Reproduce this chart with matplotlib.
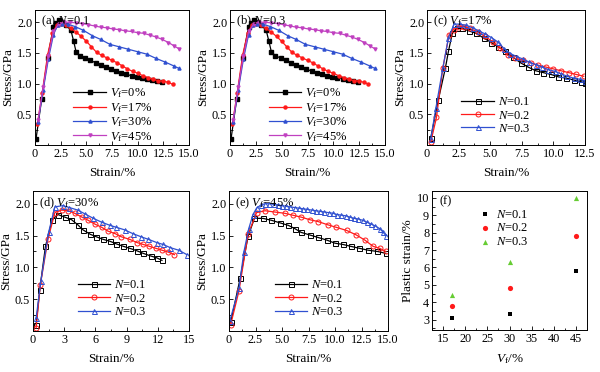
import matplotlib
matplotlib.use("Agg")
import matplotlib.pyplot as plt
from matplotlib.ticker import AutoMinorLocator

plt.rcParams['font.family'] = ['Liberation Serif', 'DejaVu Serif']
plt.rcParams['mathtext.fontset'] = 'custom'
plt.rcParams['mathtext.rm'] = 'Liberation Serif'
plt.rcParams['mathtext.it'] = 'Liberation Serif:italic'
plt.rcParams['font.size'] = 8

# ---------------- data ----------------
# (a) N=0.1 and (b) N=0.3 : Vf = 0, 17, 30, 45 %
a_s0 = [0.1, 0.65, 1.23, 1.8, 2.05, 2.3, 2.6, 3.0, 3.5, 3.75, 4.0, 4.4, 4.9, 5.4, 5.9, 6.4, 6.9, 7.4, 7.9, 8.4, 8.9, 9.4, 9.9, 10.4, 10.9, 11.4, 11.9, 12.4]
a_y0 = [0.1, 0.75, 1.42, 1.93, 1.99, 2.03, 2.0, 1.96, 1.87, 1.7, 1.52, 1.45, 1.42, 1.38, 1.34, 1.3, 1.27, 1.24, 1.2, 1.17, 1.15, 1.13, 1.11, 1.1, 1.08, 1.06, 1.05, 1.03]
a_s17 = [0.23, 0.7, 1.23, 1.7, 2.1, 2.5, 3.0, 3.5, 4.0, 4.5, 5.0, 5.5, 6.0, 6.5, 7.0, 7.5, 8.0, 8.5, 9.0, 9.5, 10.0, 10.5, 11.0, 11.5, 12.0, 12.5, 13.0, 13.4]
a_y17 = [0.34, 0.85, 1.47, 1.82, 1.95, 1.98, 1.95, 1.9, 1.84, 1.77, 1.69, 1.6, 1.51, 1.46, 1.42, 1.38, 1.34, 1.29, 1.24, 1.2, 1.17, 1.13, 1.1, 1.07, 1.05, 1.04, 1.02, 0.99]
a_s30 = [0.3, 0.8, 1.3, 1.8, 2.2, 2.6, 3.2, 3.9, 4.7, 5.6, 6.4, 7.3, 8.2, 9.1, 10.0, 10.9, 11.8, 12.7, 13.5, 14.0]
a_y30 = [0.38, 0.9, 1.4, 1.8, 1.95, 1.98, 1.97, 1.93, 1.87, 1.78, 1.72, 1.64, 1.6, 1.56, 1.52, 1.48, 1.41, 1.35, 1.29, 1.25]
a_s45 = [0.3, 0.8, 1.3, 1.8, 2.3, 2.8, 3.4, 4.0, 4.6, 5.2, 5.8, 6.4, 7.0, 7.6, 8.2, 8.8, 9.4, 10.0, 10.6, 11.2, 11.8, 12.4, 13.0, 13.5, 14.0]
a_y45 = [0.4, 0.95, 1.45, 1.85, 1.97, 2.0, 2.0, 1.99, 1.98, 1.96, 1.94, 1.92, 1.91, 1.89, 1.88, 1.86, 1.85, 1.83, 1.82, 1.79, 1.76, 1.72, 1.67, 1.62, 1.57]

vf_labels = ['$V_\\mathrm{f}$=0%', '$V_\\mathrm{f}$=17%', '$V_\\mathrm{f}$=30%', '$V_\\mathrm{f}$=45%']
n_labels = ['$N$=0.1', '$N$=0.2', '$N$=0.3']

# (c) Vf=17%
c_s1 = [0.3, 0.9, 1.45, 1.7, 2.0, 2.35, 2.8, 3.3, 3.9, 4.5, 5.1, 5.6, 6.2, 6.8, 7.4, 8.0, 8.6, 9.2, 9.8, 10.4, 11.0, 11.6, 12.2, 12.5]
c_y1 = [0.12, 0.74, 1.25, 1.53, 1.82, 1.9, 1.9, 1.86, 1.82, 1.74, 1.67, 1.6, 1.53, 1.43, 1.34, 1.27, 1.21, 1.18, 1.15, 1.11, 1.09, 1.06, 1.03, 1.01]
c_s2 = [0.3, 0.75, 1.25, 1.75, 2.1, 2.5, 2.9, 3.4, 4.0, 4.6, 5.2, 5.8, 6.4, 7.0, 7.6, 8.2, 8.8, 9.4, 10.0, 10.6, 11.2, 11.8, 12.4]
c_y2 = [0.05, 0.45, 1.25, 1.8, 1.88, 1.93, 1.93, 1.9, 1.84, 1.77, 1.68, 1.58, 1.46, 1.41, 1.38, 1.34, 1.3, 1.27, 1.24, 1.21, 1.18, 1.15, 1.12]
c_s3 = [0.3, 0.7, 1.25, 1.7, 2.15, 2.6, 3.1, 3.6, 4.1, 4.6, 5.1, 5.6, 6.1, 6.6, 7.1, 7.6, 8.1, 8.6, 9.1, 9.6, 10.1, 10.6, 11.1, 11.6, 12.1, 12.5]
c_y3 = [0.1, 0.6, 1.25, 1.75, 1.97, 1.97, 1.95, 1.91, 1.86, 1.81, 1.75, 1.68, 1.57, 1.49, 1.44, 1.4, 1.35, 1.31, 1.27, 1.23, 1.2, 1.16, 1.12, 1.09, 1.07, 1.05]

# (d) Vf=30%
d_s1 = [0.3, 0.65, 1.2, 1.85, 2.4, 3.05, 3.7, 4.3, 4.8, 5.5, 6.1, 6.75, 7.4, 8.0, 8.7, 9.3, 10.0, 10.6, 11.3, 11.9, 12.4]
d_y1 = [0.1, 0.65, 1.33, 1.75, 1.83, 1.79, 1.75, 1.67, 1.59, 1.52, 1.48, 1.44, 1.41, 1.37, 1.33, 1.3, 1.26, 1.22, 1.18, 1.15, 1.11]
d_s2 = [0.3, 0.7, 1.45, 2.1, 2.75, 3.4, 4.0, 4.7, 5.3, 5.95, 6.6, 7.2, 7.9, 8.5, 9.3, 10.0, 10.6, 11.2, 11.8, 12.4, 13.0, 13.6]
d_y2 = [0.05, 0.72, 1.45, 1.86, 1.9, 1.89, 1.85, 1.79, 1.74, 1.68, 1.63, 1.57, 1.53, 1.48, 1.44, 1.39, 1.36, 1.33, 1.3, 1.27, 1.24, 1.2]
d_s3 = [0.3, 0.75, 1.5, 2.1, 2.85, 3.5, 4.3, 5.0, 5.8, 6.6, 7.4, 8.0, 8.8, 9.6, 10.4, 11.1, 11.9, 12.5, 13.2, 14.0, 14.8]
d_y3 = [0.2, 0.78, 1.55, 1.95, 1.97, 1.94, 1.9, 1.84, 1.77, 1.71, 1.66, 1.63, 1.59, 1.53, 1.48, 1.44, 1.39, 1.36, 1.31, 1.27, 1.2]

# (e) Vf=45%
e_s1 = [0.16, 1.07, 1.8, 2.4, 3.2, 4.0, 4.8, 5.6, 6.2, 6.8, 7.6, 8.4, 9.2, 10.0, 10.75, 11.5, 12.3, 13.1, 14.0, 14.8]
e_y1 = [0.14, 0.84, 1.49, 1.77, 1.77, 1.74, 1.7, 1.66, 1.61, 1.55, 1.51, 1.47, 1.43, 1.38, 1.36, 1.33, 1.3, 1.27, 1.25, 1.22]
e_s2 = [0.16, 0.94, 1.8, 2.6, 3.4, 4.3, 5.25, 6.0, 6.8, 7.6, 8.4, 9.3, 10.1, 11.1, 12.0, 12.8, 13.6, 14.2, 14.8]
e_y2 = [0.1, 0.63, 1.52, 1.86, 1.89, 1.87, 1.85, 1.82, 1.79, 1.75, 1.72, 1.67, 1.63, 1.58, 1.51, 1.43, 1.33, 1.3, 1.25]
e_s3 = [0.06, 0.94, 1.4, 1.85, 2.26, 2.6, 3.0, 3.4, 3.8, 4.2, 4.6, 5.0, 5.4, 5.8, 6.2, 6.6, 7.0, 7.4, 7.8, 8.2,
        8.6, 9.0, 9.4, 9.8, 10.2, 10.6, 11.0, 11.4, 11.8, 12.2, 12.6, 13.0, 13.4, 13.8, 14.2, 14.5, 14.8]
e_y3 = [0.15, 0.67, 1.24, 1.6, 1.83, 1.93, 1.98, 2.0, 2.0, 1.99, 1.98, 1.97, 1.96, 1.95, 1.94, 1.93, 1.92, 1.91, 1.9, 1.89,
        1.88, 1.87, 1.86, 1.85, 1.83, 1.82, 1.81, 1.79, 1.77, 1.76, 1.74, 1.71, 1.68, 1.65, 1.61, 1.56, 1.5]

# (f) plastic strain vs Vf
f_vf = [17, 30, 45]
f_n1 = [3.1, 3.3, 5.8]
f_n2 = [3.8, 4.8, 7.8]
f_n3 = [4.4, 6.3, 10.0]

# ---------------- figure ----------------
W, H = 600, 372
fig = plt.figure(figsize=(6.0, 3.72), dpi=100)

TICK_FS = 8.8
LAB_FS = 9.5
LEG_FS = 9

def ax_px(l, r, t, b):
    return fig.add_axes([l / W, 1 - b / H, (r - l) / W, (b - t) / H])

def style(ax):
    ax.tick_params(direction='in', which='both', labelsize=TICK_FS, length=3, width=0.6, pad=2)
    ax.tick_params(which='minor', length=1.8)
    ax.xaxis.set_minor_locator(AutoMinorLocator(2))
    ax.yaxis.set_minor_locator(AutoMinorLocator(2))
    for sp in ax.spines.values():
        sp.set_linewidth(0.7)

COL = ['black', '#ff1a1a', '#3050d0', '#c040c0']
GREEN = '#66cc33'

def stress_axes(ax, xt, xtl, xmax):
    ax.set_xlim(0, xmax)
    ax.set_ylim(0, 2.2)
    ax.set_xticks(xt)
    ax.set_xticklabels(xtl)
    ax.set_yticks([0.5, 1.0, 1.5, 2.0])
    ax.set_yticklabels(['0.5', '1.0', '1.5', '2.0'])
    ax.set_xlabel('Strain/%', fontsize=LAB_FS, labelpad=5)
    ax.set_ylabel('Stress/GPa', fontsize=LAB_FS, labelpad=2)
    style(ax)

xt15 = [0, 2.5, 5, 7.5, 10, 12.5, 15]
xtl15 = ['0', '2.5', '5.0', '7.5', '10.0', '12.5', '15.0']

vf_series = [(a_s0, a_y0), (a_s17, a_y17), (a_s30, a_y30), (a_s45, a_y45)]
vf_markers = ['s', 'o', '^', 'v']

for pos, title in [((35, 189, 10, 145), '(a) $N$=0.1'), ((230, 385, 10, 145), '(b) $N$=0.3')]:
    ax = ax_px(*pos)
    for (sx, sy), c, m, lab in zip(vf_series, COL, vf_markers, vf_labels):
        ax.plot(sx, sy, color=c, marker=m, ms=2.2, lw=0.9, label=lab)
    stress_axes(ax, xt15, xtl15, 15)
    ax.text(0.04, 0.97, title, transform=ax.transAxes, ha='left', va='top', fontsize=LEG_FS)
    ax.legend(loc='lower left', bbox_to_anchor=(0.2, -0.045), frameon=False, fontsize=LEG_FS,
              handlelength=2.6, handletextpad=0.3, labelspacing=0.05, borderaxespad=0.2)

def n_panel(pos, series, xt, xtl, xmax, title, leg_anchor):
    ax = ax_px(*pos)
    for (sx, sy), c, m, lab in zip(series, COL[:3], ['s', 'o', '^'], n_labels):
        ax.plot(sx, sy, color=c, marker=m, ms=3.6, mfc='none', mew=0.7, lw=0.9, label=lab)
    stress_axes(ax, xt, xtl, xmax)
    ax.text(0.04, 0.97, title, transform=ax.transAxes, ha='left', va='top', fontsize=LEG_FS)
    ax.legend(loc='lower left', bbox_to_anchor=leg_anchor, frameon=False, fontsize=LEG_FS,
              handlelength=2.6, handletextpad=0.3, labelspacing=0.1, borderaxespad=0.2)
    return ax

n_panel((427, 585, 10, 145), [(c_s1, c_y1), (c_s2, c_y2), (c_s3, c_y3)],
        [0, 2.5, 5, 7.5, 10, 12.5], ['0', '2.5', '5.0', '7.5', '10.0', '12.5'], 12.5,
        '(c) $V_\\mathrm{f}$=17%', (0.17, 0.02))
n_panel((33, 189, 191, 331), [(d_s1, d_y1), (d_s2, d_y2), (d_s3, d_y3)],
        [0, 3, 6, 9, 12, 15], ['0', '3', '6', '9', '12', '15'], 15,
        '(d) $V_\\mathrm{f}$=30%', (0.24, 0.04))
n_panel((229, 388, 191, 331), [(e_s1, e_y1), (e_s2, e_y2), (e_s3, e_y3)],
        xt15, xtl15, 15, '(e) $V_\\mathrm{f}$=45%', (0.24, 0.04))

# (f)
ax = ax_px(432, 587, 191, 330)
ax.scatter(f_vf, f_n1, marker='s', s=12, color='black', label=n_labels[0], lw=0)
ax.scatter(f_vf, f_n2, marker='o', s=14, color='#ff1a1a', label=n_labels[1], lw=0)
ax.scatter(f_vf, f_n3, marker='^', s=14, color=GREEN, label=n_labels[2], lw=0)
ax.set_xlim(12.5, 47.5)
ax.set_ylim(2.4, 10.4)
ax.set_xticks([15, 20, 25, 30, 35, 40, 45])
ax.set_yticks([3, 4, 5, 6, 7, 8, 9, 10])
ax.set_xlabel('$V_\\mathrm{f}$/%', fontsize=LAB_FS, labelpad=5)
ax.set_ylabel('Plastic strain/%', fontsize=LAB_FS, labelpad=2)
style(ax)
ax.text(0.05, 0.97, '(f)', transform=ax.transAxes, ha='left', va='top', fontsize=LEG_FS)
ax.legend(loc='upper left', bbox_to_anchor=(0.27, 0.91), frameon=False, fontsize=LEG_FS,
          handlelength=1.0, handletextpad=0.4, labelspacing=0.15, borderaxespad=0.0)

fig.savefig('out.png', dpi=100)
